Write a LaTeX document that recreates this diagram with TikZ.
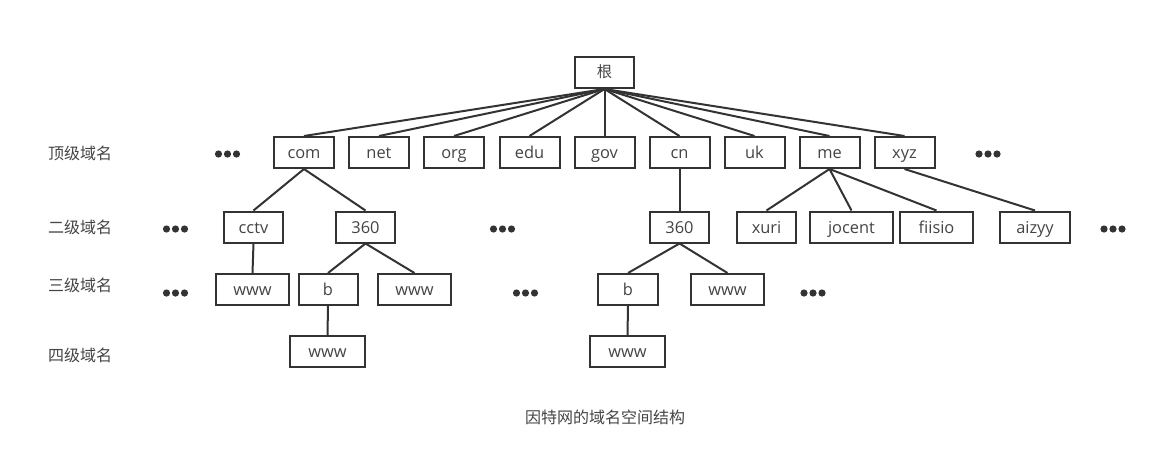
\documentclass[tikz,border=0pt]{standalone}
\usepackage{fontspec}
\setmainfont{Open Sans}
\newfontfamily\cjk{Noto Sans CJK SC}
\definecolor{ink}{HTML}{333333}
\definecolor{txt}{HTML}{444444}
\begin{document}
\begin{tikzpicture}[x=0.75pt,y=-0.75pt,
  box/.style={draw=ink,line width=1.5pt,rectangle,inner sep=0pt,minimum height=23.25pt,text height=11pt,text depth=1.5pt,font=\fontsize{12.3}{14}\selectfont,text=txt},
  lvl/.style={font=\cjk\fontsize{12}{14}\selectfont,text=txt,inner sep=0pt},
  link/.style={draw=ink,line width=1.5pt},
  ellip/.pic={\fill[ink] (-9,0) circle (2.7pt) (0,0) circle (2.7pt) (9,0) circle (2.7pt);}]
\useasboundingbox (0,0) rectangle (1167,457);
% root
\node[box,minimum width=44.25pt,font=\cjk\fontsize{11.5}{13}\selectfont,text height=9pt,text depth=1.5pt] (root) at (604.5,72.5) {根};
% top level
\foreach \n/\x in {com/304,net/379,org/454,edu/529.5,gov/604.5,cn/679.5,uk/754.5,me/829.5,xyz/904.5}{
  \node[box,minimum width=45pt] (\n) at (\x,152.5) {\n};
  \draw[link] (root.south) -- (\n.north);
}
% second level
\node[box,minimum width=44.25pt] (cctv) at (253.5,227) {cctv};
\node[box,minimum width=44.25pt] (s360a) at (365.5,227) {360};
\node[box,minimum width=44.25pt] (s360b) at (679.5,227) {360};
\node[box,minimum width=44.25pt] (xuri) at (766.5,227) {xuri};
\node[box,minimum width=62.25pt] (jocent) at (851.5,227) {jocent};
\node[box,minimum width=54.75pt] (fiisio) at (936.5,227) {fiisio};
\node[box,minimum width=52.5pt] (aizyy) at (1035,227) {aizyy};
% third level
\node[box,minimum width=54.75pt] (wA) at (252.5,289.5) {www};
\node[box,minimum width=44.25pt] (bA) at (328,289.5) {b};
\node[box,minimum width=54.75pt] (wB) at (414.5,289.5) {www};
\node[box,minimum width=45pt] (bB) at (628,289.5) {b};
\node[box,minimum width=54.75pt] (wC) at (727.5,289.5) {www};
% fourth level
\node[box,minimum width=56.25pt] (wD) at (327.5,351.5) {www};
\node[box,minimum width=56.25pt] (wE) at (627.5,351.5) {www};
% links
\draw[link] (com.south) -- (cctv.north);
\draw[link] (com.south) -- (s360a.north);
\draw[link] (cctv.south) -- (wA.north);
\draw[link] (s360a.south) -- (bA.north);
\draw[link] (s360a.south) -- (wB.north);
\draw[link] (bA.south) -- (wD.north);
\draw[link] (cn.south) -- (s360b.north);
\draw[link] (s360b.south) -- (bB.north);
\draw[link] (s360b.south) -- (wC.north);
\draw[link] (bB.south) -- (wE.north);
\draw[link] (me.south) -- (xuri.north);
\draw[link] (me.south) -- (jocent.north);
\draw[link] (me.south) -- (fiisio.north);
\draw[link] (xyz.south) -- (aizyy.north);
% level labels
\node[lvl] (l1) at (80,153) {顶级域名};
\node[lvl] (l2) at (80,227) {二级域名};
\node[lvl] (l3) at (80,285) {三级域名};
\node[lvl] (l4) at (80,355) {四级域名};
% ellipses
\pic at (227.5,154) {ellip};
\pic at (988,154) {ellip};
\pic at (175.5,229) {ellip};
\pic at (502.5,229) {ellip};
\pic at (1113,229) {ellip};
\pic at (175.5,293) {ellip};
\pic at (525.5,293) {ellip};
\pic at (813,293) {ellip};
% caption
\node[lvl,font=\cjk\fontsize{12}{14}\selectfont] (cap) at (605,417) {因特网的域名空间结构};
\end{tikzpicture}
\end{document}
